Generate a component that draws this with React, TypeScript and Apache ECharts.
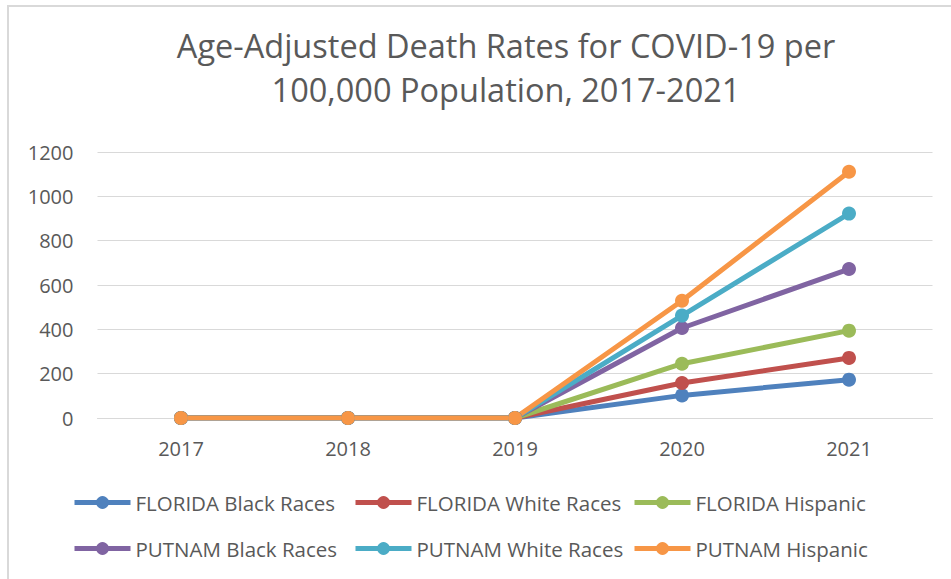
import React, { useEffect, useRef } from "react";
import * as echarts from "echarts";

const years = ["2017", "2018", "2019", "2020", "2021"];

const floridaBlack = [0, 0, 0, 102, 173];
const floridaWhite = [0, 0, 0, 158, 271];
const floridaHispanic = [0, 0, 0, 245, 394];
const putnamBlack = [0, 0, 0, 406, 672];
const putnamWhite = [0, 0, 0, 462, 922];
const putnamHispanic = [0, 0, 0, 529, 1111];

const seriesNames = [
  "FLORIDA Black Races",
  "FLORIDA White Races",
  "FLORIDA Hispanic",
  "PUTNAM Black Races",
  "PUTNAM White Races",
  "PUTNAM Hispanic",
];
const seriesValues = [
  floridaBlack,
  floridaWhite,
  floridaHispanic,
  putnamBlack,
  putnamWhite,
  putnamHispanic,
];
const colors = ["#4f81bd", "#c0504d", "#9bbb59", "#8064a2", "#4bacc6", "#f79646"];

const titleText = "Age-Adjusted Death Rates for COVID-19 per\n100,000 Population, 2017-2021";

const FONT = "'Open Sans', sans-serif";
const TEXT_COLOR = "#595959";

// legend slot positions: three columns, two rows
const legendCols = [72, 353, 632];
const legendRows = [492, 538];

export default function App() {
  const ref = useRef<HTMLDivElement>(null);

  useEffect(() => {
    if (!ref.current) return;
    const chart = echarts.init(ref.current, undefined, { renderer: "svg" });

    const legends = seriesNames.map((name, i) => ({
      data: [name],
      left: legendCols[i % 3],
      top: legendRows[Math.floor(i / 3)],
      itemWidth: 56,
      itemHeight: 16,
      itemGap: 5,
      padding: 0,
      lineStyle: { width: 5 },
      textStyle: { color: TEXT_COLOR, fontSize: 20.5, fontFamily: FONT },
    }));

    chart.setOption({
      animation: false,
      backgroundColor: "#ffffff",
      graphic: [
        {
          type: "rect",
          z: -1,
          shape: { x: 8, y: 6, width: 1200, height: 1000 },
          style: { fill: "none", stroke: "#d9d9d9", lineWidth: 2 },
        },
        {
          type: "text",
          x: 506,
          y: 23,
          style: {
            text: titleText,
            fill: TEXT_COLOR,
            font: `32.5px ${FONT}`,
            lineHeight: 44,
            textAlign: "center",
            textVerticalAlign: "top",
          },
        },
      ],
      legend: legends,
      grid: { left: 97.5, right: 18.5, top: 152, bottom: 161 },
      xAxis: {
        type: "category",
        data: years,
        boundaryGap: true,
        axisLine: { show: true, lineStyle: { color: "#d9d9d9", width: 1 } },
        axisTick: { show: false },
        axisLabel: { color: TEXT_COLOR, fontSize: 20, fontFamily: FONT, margin: 20 },
      },
      yAxis: {
        type: "value",
        min: 0,
        max: 1200,
        interval: 200,
        axisLine: { show: false },
        axisTick: { show: false },
        splitLine: { lineStyle: { color: "#d9d9d9", width: 1 } },
        axisLabel: {
          color: TEXT_COLOR,
          fontSize: 20,
          fontFamily: FONT,
          margin: 24,
          formatter: (v: number) => String(v),
        },
      },
      series: seriesNames.map((name, i) => ({
        name,
        type: "line",
        data: seriesValues[i],
        symbol: "circle",
        symbolSize: 14,
        color: colors[i],
        lineStyle: { width: 5, color: colors[i] },
        itemStyle: { color: colors[i] },
      })),
    });

    return () => chart.dispose();
  }, []);

  return (
    <div
      ref={ref}
      style={{ position: "fixed", left: 0, top: 0, width: 951, height: 579, background: "#fff" }}
    />
  );
}
